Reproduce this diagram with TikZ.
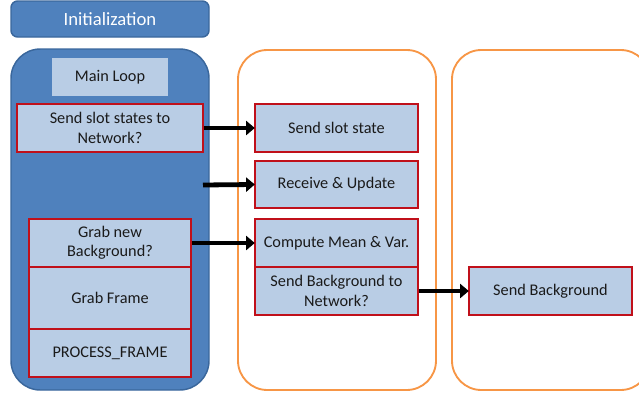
\documentclass[tikz,border=0pt]{standalone}
\usepackage{fontspec}
\setmainfont{Carlito}
\usetikzlibrary{arrows.meta}
\definecolor{loopblue}{HTML}{4F81BD}
\definecolor{loopedge}{HTML}{3A679C}
\definecolor{stepfill}{HTML}{B9CDE5}
\definecolor{stepred}{HTML}{C0101A}
\definecolor{netorange}{HTML}{F79646}
\definecolor{inktext}{HTML}{1A1A1A}
\tikzset{
  every node/.style={font=\fontsize{12.2}{14.4}\selectfont, text=inktext, align=center, inner sep=0pt},
  panel/.style={draw=loopedge, line width=1.1pt, fill=loopblue, rounded corners=22pt},
  headbox/.style={draw=loopedge, line width=1.1pt, fill=loopblue, rounded corners=5pt,
    text=white, font=\fontsize{14}{16}\selectfont},
  lane/.style={draw=netorange, line width=1.4pt, rounded corners=22pt},
  plain/.style={fill=stepfill},
  stepbox/.style={draw=stepred, line width=1.3pt, fill=stepfill},
  link/.style={line width=3.6pt, black, -{Triangle[length=6.5pt, width=10.5pt]}, shorten >=-0.5pt}
}
\begin{document}
\begin{tikzpicture}[x=0.75pt, y=-0.75pt]
\useasboundingbox (0,0) rectangle (639,393);

% start-up block and the main loop column
\node[headbox, minimum width=148.5pt, minimum height=27pt] (init) at (110,19) {Initialization};
\node[panel, minimum width=148.5pt, minimum height=255.75pt] (loop) at (110,219.5) {};
\node[plain, minimum width=87pt, minimum height=28.5pt] (mainloop) at (110,77) {Main Loop};
\node[stepbox, minimum width=139.5pt, minimum height=36pt] (sendq) at (110,128) {Send slot states to\\Network?};
\node[stepbox, minimum width=121.5pt, minimum height=36pt] (grabbg) at (110,243) {Grab new\\Background?};
\node[stepbox, minimum width=121.5pt, minimum height=46.5pt] (grabframe) at (110,298) {Grab Frame};
\node[stepbox, minimum width=121.5pt, minimum height=36pt] (process) at (110,353) {PROCESS\_FRAME};

% network lane
\node[lane, minimum width=148.5pt, minimum height=255pt] (netA) at (337,220) {};
\node[stepbox, minimum width=122.25pt, minimum height=36pt] (sendslot) at (336.5,128) {Send slot state};
\node[stepbox, minimum width=122.25pt, minimum height=35.25pt] (recv) at (336.5,184.5) {Receive \& Update};
\node[stepbox, minimum width=122.25pt, minimum height=36pt] (compute) at (336.5,243) {Compute Mean \& Var.};
\node[stepbox, minimum width=122.25pt, minimum height=36pt] (sendbgq) at (336.5,291) {Send Background to\\Network?};

% background lane
\node[lane, minimum width=148.5pt, minimum height=255pt] (netB) at (551,220) {};
\node[stepbox, minimum width=122.25pt, minimum height=36pt] (sendbg) at (550.5,291) {Send Background};

% connectors
\coordinate (recvsrc) at (203,185);
\draw[link] (sendq.east) -- (sendslot.west);
\draw[link] (recvsrc) -- (recv.west);
\draw[link] (grabbg.east) -- (compute.west);
\draw[link] (sendbgq.east) -- (sendbg.west);
\end{tikzpicture}
\end{document}
